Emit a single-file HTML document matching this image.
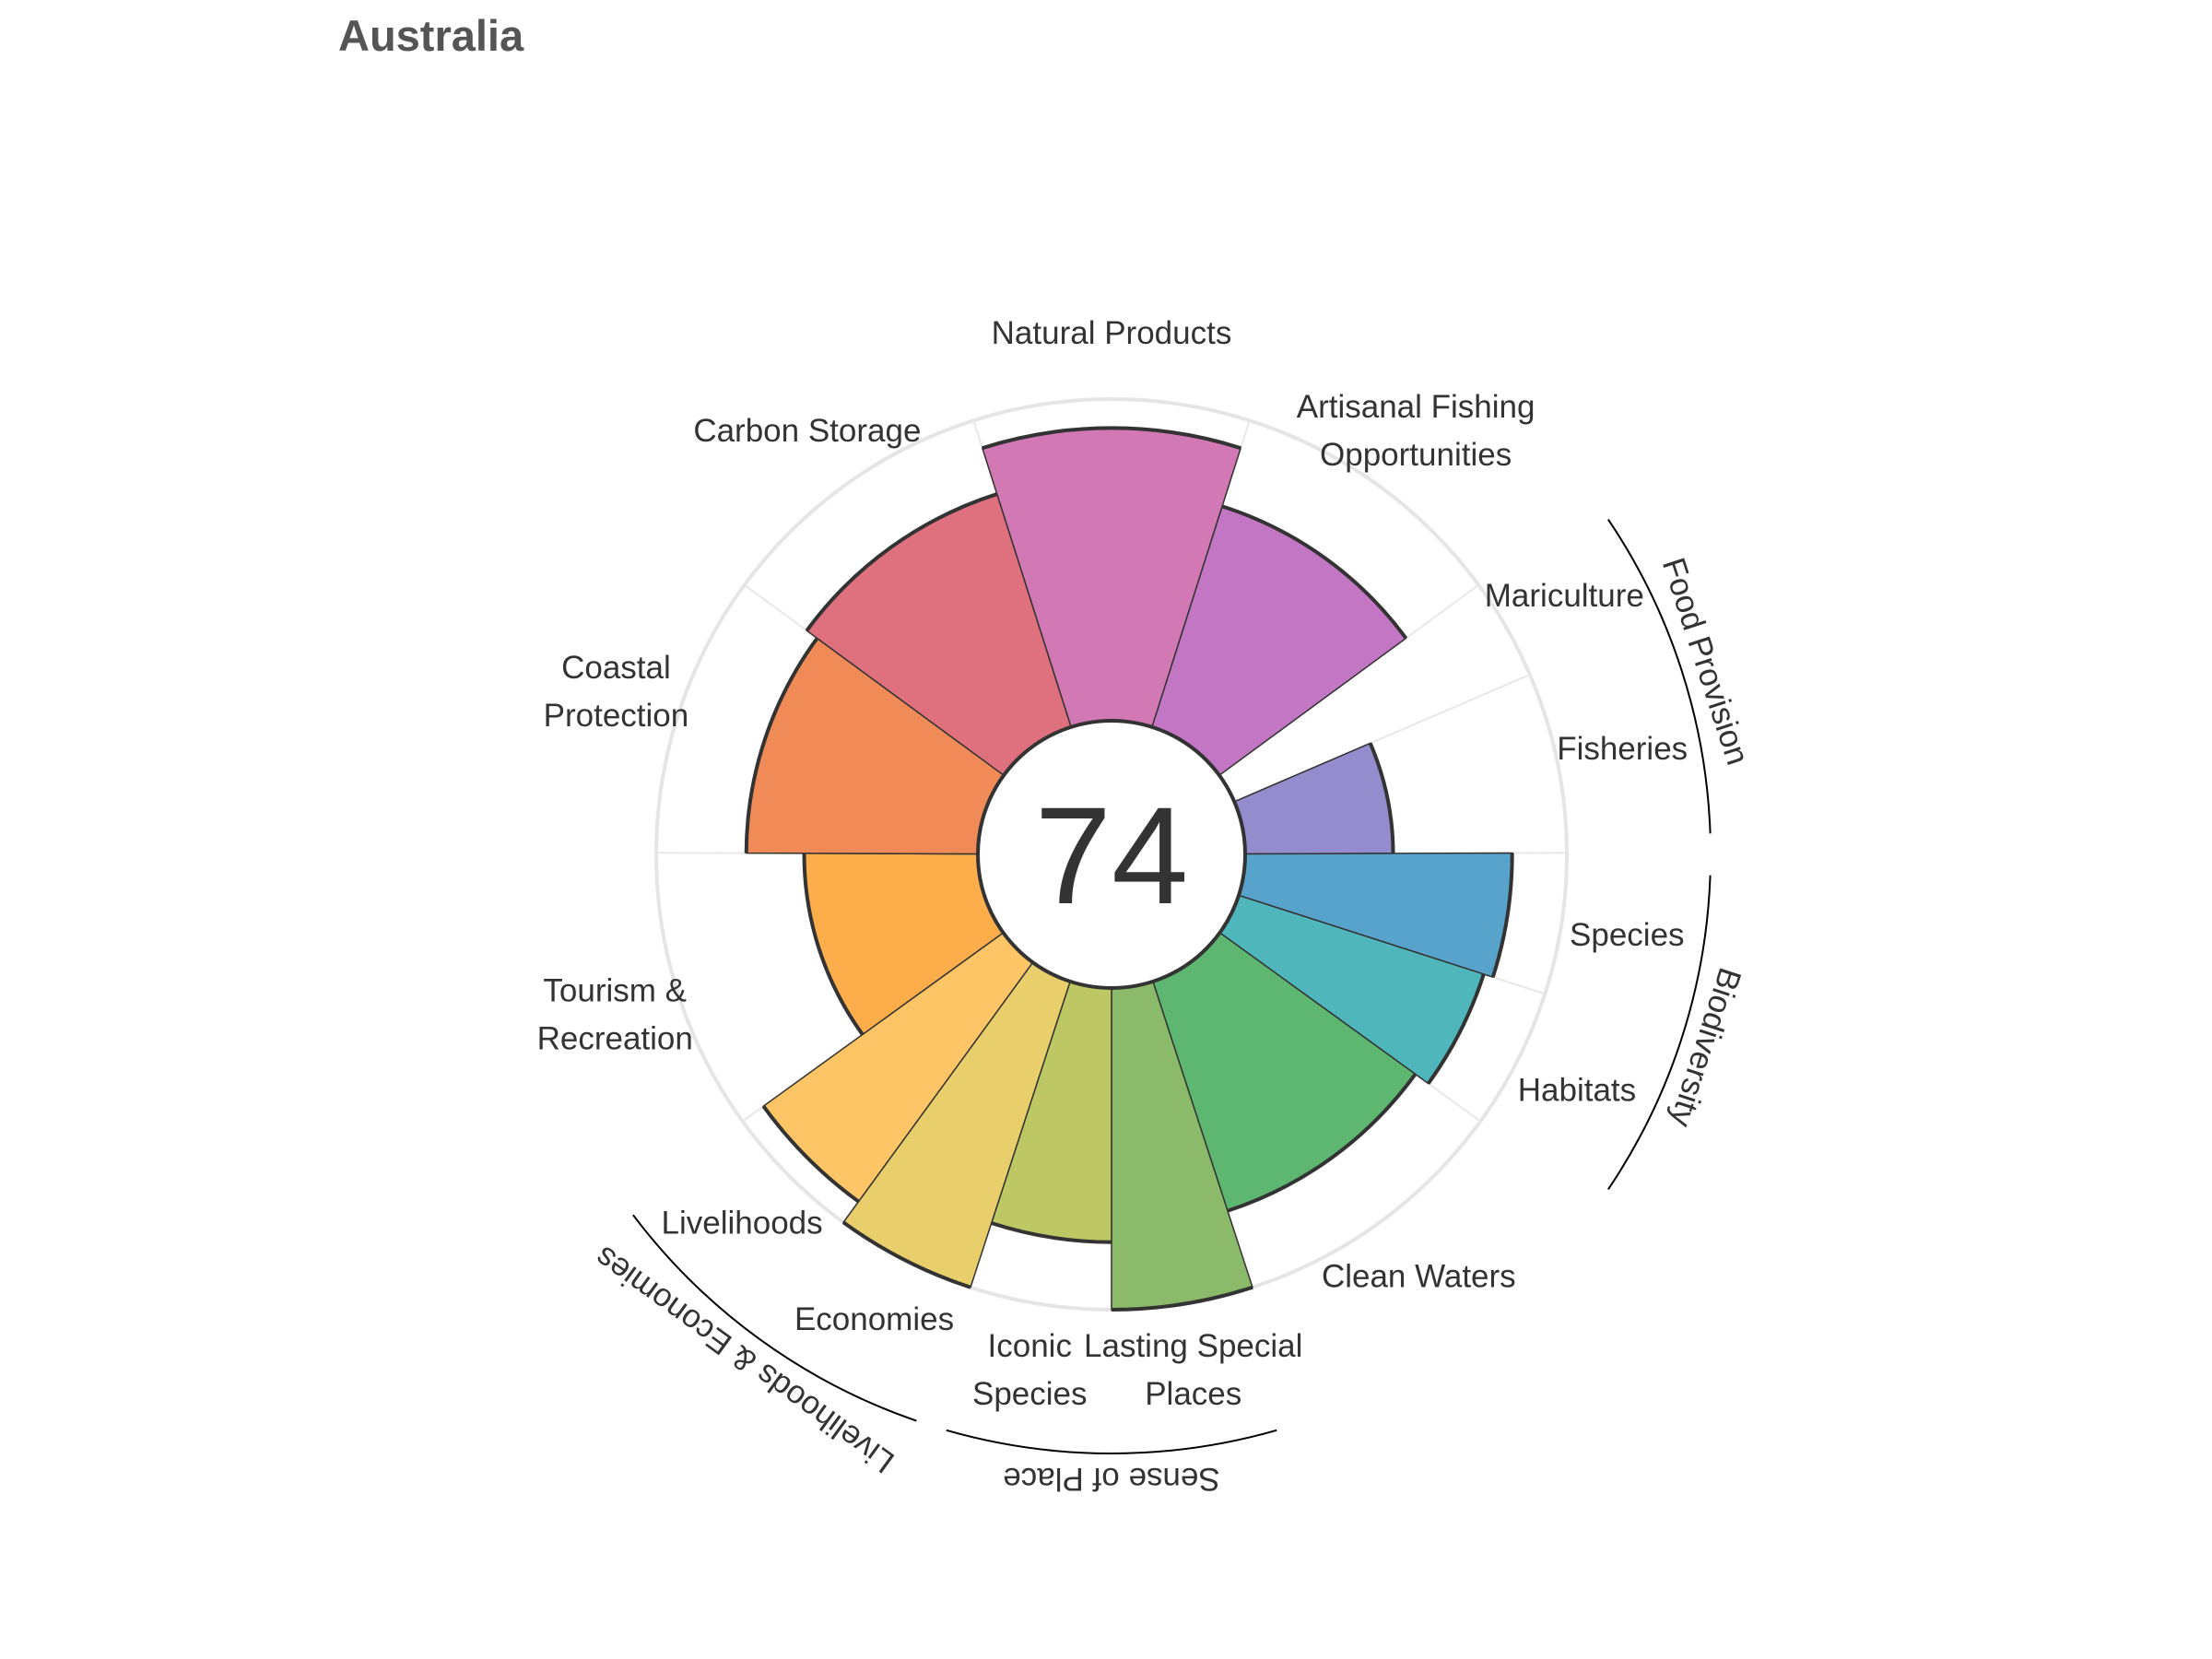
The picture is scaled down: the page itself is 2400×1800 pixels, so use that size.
<!DOCTYPE html>
<html><head><meta charset="utf-8"><style>
body{margin:0;background:#fff}
svg{display:block;font-family:"Liberation Sans",sans-serif}
</style></head><body>
<svg id="chart" width="2400" height="1800" viewBox="0 0 2400 1800">
<text x="367" y="55" font-size="47" font-weight="bold" fill="#555">Australia</text>
<g id="grid"></g><g id="bars"></g><g id="labels"></g><g id="groups"></g>
<circle cx="1206" cy="927" r="145" fill="#fff" stroke="#333" stroke-width="4"/>
<text x="1206" y="980" font-size="150" text-anchor="middle" fill="#333">74</text>
</svg>
<script>
const goals=["Natural Products","Artisanal Fishing|Opportunities","Mariculture","Fisheries","Species","Habitats","Clean Waters","Lasting Special|Places","Iconic|Species","Economies","Livelihoods","Tourism &|Recreation","Coastal|Protection","Carbon Storage"];
const scores=[91,72,0,46,83,80,75,100,79,100,92,54,72,76];
const weights=[35.2,36,13,23,18,18,36,18,18,18,18,36,36,36];
const colors=["#d279b5","#c376c3","#b48ac8","#948ccc","#58a3cc","#4fb6bb","#5db770","#8bba6b","#bdc763","#e9cf6c","#fdc565","#fdae4b","#f08b58","#df707e"];
const groupNames=["Food Provision","Biodiversity","Sense of Place","Livelihoods & Economies"];
const groupStart=[56,92,164,199];
const groupEnd=[88,124,196,233];
const CX=1206,CY=927,R0=145,R1=494,NS="http://www.w3.org/2000/svg";
const total=weights.reduce((a,b)=>a+b,0);
function pt(a,r){const t=a*Math.PI/180;return [CX+r*Math.sin(t),CY-r*Math.cos(t)];}
function rad(s){return R0+(R1-R0)*s/100;}
function mk(tag,parent,attrs){const e=document.createElementNS(NS,tag);for(const k in attrs)e.setAttribute(k,attrs[k]);document.getElementById(parent).appendChild(e);return e;}
const grid=mk("circle","grid",{cx:CX,cy:CY,r:R1,fill:"none",stroke:"#e5e5e5","stroke-width":4});


let a=-weights[0]/2*360/total;
goals.forEach((g,i)=>{
  const w=weights[i]*360/total,a1=a+w,mid=a+w/2,r=rad(scores[i]);
  const [gx,gy]=pt(a,R0),[hx,hy]=pt(a,R1);
  const gl=mk("line","grid",{x1:gx,y1:gy,x2:hx,y2:hy,stroke:"#e8e8e8","stroke-width":2});
  
  
  if(scores[i]>0){
    const large=w>180?1:0;
    const p0=pt(a,R0),p1=pt(a,r),p2=pt(a1,r),p3=pt(a1,R0);
    const d=`M${p0}L${p1}A${r},${r} 0 ${large} 1 ${p2}L${p3}A${R0},${R0} 0 ${large} 0 ${p0}Z`;
    const b=mk("path","bars",{d:d,fill:colors[i],stroke:"#333","stroke-width":1.5});
    
    
    const e=mk("path","bars",{d:`M${p1}A${r},${r} 0 ${large} 1 ${p2}`,fill:"none",stroke:"#333","stroke-width":4});
    
    
  }
  const [lx,ly]=pt(mid,566);const lines=g.split("|");
  const t=mk("text","labels",{x:lx,y:ly+12-(lines.length-1)*26,"font-size":35,"text-anchor":"middle",fill:"#333"});
  
  
  lines.forEach((l,j)=>{const s=document.createElementNS(NS,"tspan");s.setAttribute("x",lx);if(j)s.setAttribute("dy",52);s.textContent=l;t.appendChild(s);});
  a=a1;
});
groupNames.forEach((n,i)=>{
  const s=groupStart[i],e=groupEnd[i],R=650;
  const p0=pt(s,R),p1=pt(e,R);
  const arc=mk("path","groups",{d:`M${p0}A${R},${R} 0 0 1 ${p1}`,fill:"none",stroke:"#000","stroke-width":2});
  
  
  const m=(s+e)/2,[tx,ty]=pt(m,666);
  const t=mk("text","groups",{x:tx,y:ty,"font-size":35,"text-anchor":"middle",fill:"#333",transform:`rotate(${m},${tx},${ty})`});
  t.textContent=n;
  
  
});
</script>
</body></html>
